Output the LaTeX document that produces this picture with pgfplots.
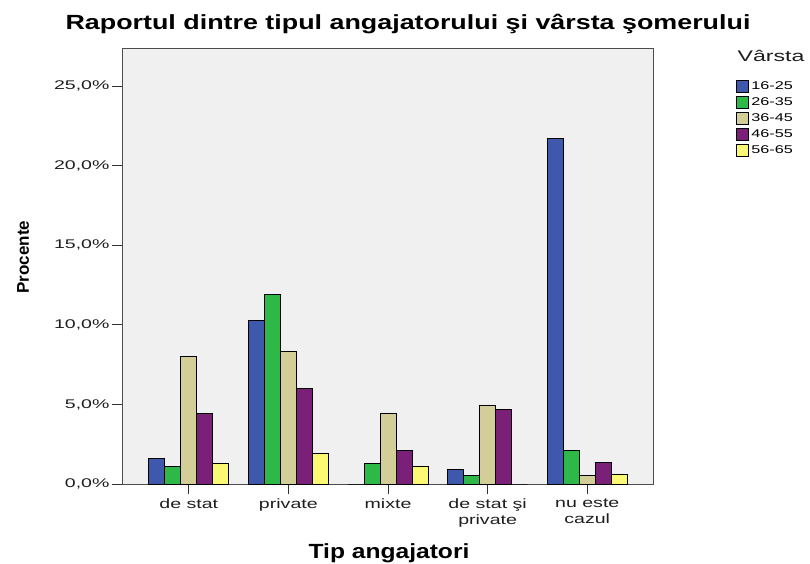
\documentclass[border=0pt]{standalone}
\usepackage{pgfplots}
\pgfplotsset{compat=1.18}
\usepackage{fontspec}
\setmainfont{Liberation Sans}
\newfontfamily\titlefont[FakeStretch=1.31]{Liberation Sans Bold}
\newfontfamily\labfont[FakeStretch=1.2]{Liberation Sans Bold}
\newfontfamily\ylabfont{Liberation Sans Bold}
\newfontfamily\tickfont[FakeStretch=1.55]{Liberation Sans}
\newfontfamily\xtickfont[FakeStretch=1.45]{Liberation Sans}
\newfontfamily\legfont[FakeStretch=1.45]{Liberation Sans}
\newfontfamily\legtfont[FakeStretch=1.5]{Liberation Sans}
\definecolor{cA}{HTML}{3E58AC}
\definecolor{cB}{HTML}{2EB848}
\definecolor{cC}{HTML}{D3CE97}
\definecolor{cD}{HTML}{7B2079}
\definecolor{cE}{HTML}{FBF873}
\definecolor{txt}{HTML}{1E1E1E}
\begin{document}
\begin{tikzpicture}[x=1pt,y=1pt]
\useasboundingbox (0,0) rectangle (810,563);
\begin{axis}[
  at={(122pt,79pt)}, anchor=south west,
  scale only axis, width=531pt, height=436pt,
  xmin=-0.67, xmax=4.66, ymin=0, ymax=27.4,
  ybar=0pt, bar width=16pt,
  axis background/.style={fill=black!6},
  axis line style={black!70, line width=1pt},
  tick style={black!80, line width=1pt},
  tick align=outside, major tick length=10pt,
  xtick pos=lower, ytick pos=left,
  xtick={0,1,2,3,4},
  xticklabels={de stat, private, mixte, {de stat şi\\private}, {nu este\\cazul}},
  xticklabel style={align=center, font=\xtickfont\fontsize{13.5}{16.5}\selectfont, text=txt, yshift=-1pt},
  ytick={0,5,10,15,20,25},
  yticklabels={{0,0\%},{5,0\%},{10,0\%},{15,0\%},{20,0\%},{25,0\%}},
  yticklabel style={font=\tickfont\fontsize{12.6}{14}\selectfont, text=txt, xshift=1pt},
  legend style={at={(1.15,0.936)}, anchor=north west, draw=none, fill=none,
    font=\legfont\fontsize{11.2}{13}\selectfont,
    nodes={text height=9pt, text depth=2pt, inner sep=2.5pt}},
  legend cell align=left,
  legend image code/.code={\draw[#1,line width=1pt] (0pt,-6pt) rectangle (12pt,6pt);},
  every axis plot/.append style={draw=black, line width=1pt},
]
\addplot[fill=cA] coordinates {(0,1.6) (1,10.3) (2,0) (3,0.9) (4,21.7)};
\addplot[fill=cB] coordinates {(0,1.1) (1,11.9) (2,1.3) (3,0.55) (4,2.1)};
\addplot[fill=cC] coordinates {(0,8.0) (1,8.3) (2,4.4) (3,4.95) (4,0.55)};
\addplot[fill=cD] coordinates {(0,4.45) (1,6.0) (2,2.1) (3,4.7) (4,1.35)};
\addplot[fill=cE] coordinates {(0,1.3) (1,1.9) (2,1.1) (3,0) (4,0.6)};
\legend{16-25,26-35,36-45,46-55,56-65}
\end{axis}
\node[font=\titlefont\fontsize{20.5}{24}\selectfont, anchor=base] at (408,533) {Raportul dintre tipul angajatorului şi vârsta şomerului};
\node[font=\labfont\fontsize{20.5}{24}\selectfont, anchor=base] at (389,5) {Tip angajatori};
\node[font=\ylabfont\fontsize{17}{20}\selectfont, rotate=90] at (23,306) {Procente};
\node[font=\legtfont\fontsize{15.4}{18}\selectfont, text=txt, anchor=base] at (771,501) {Vârsta};
\end{tikzpicture}
\end{document}
